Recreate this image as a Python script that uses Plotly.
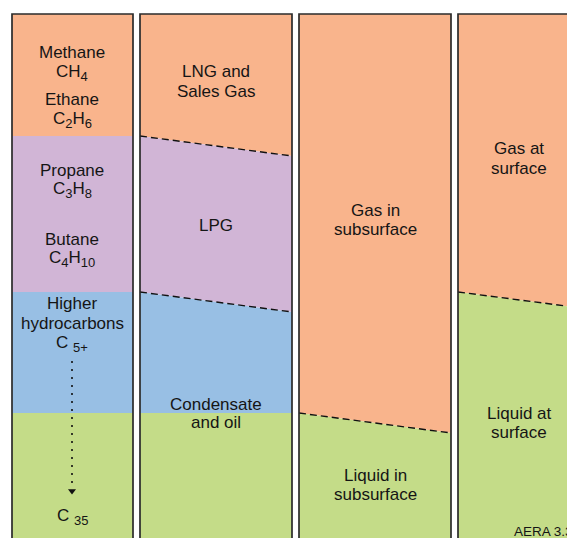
import plotly.graph_objects as go

# ---- data ----
col_left = [12, 140, 299, 458]
col_right = [133, 292, 451, 620]
col_top = 14
col_bottom = 580

ORANGE = "#F9B48C"
PURPLE = "#D1B5D6"
BLUE = "#98BFE4"
GREEN = "#C4DC88"

# band boundaries (left edge y, right edge y) from top to bottom, per column
col1_left_b = [14, 136, 292, 413, 580]
col1_right_b = [14, 136, 292, 413, 580]
col1_colors = [ORANGE, PURPLE, BLUE, GREEN]
col1_dashed = [False, False, False]

col2_left_b = [14, 136, 292, 413, 580]
col2_right_b = [14, 156, 312, 413, 580]
col2_colors = [ORANGE, PURPLE, BLUE, GREEN]
col2_dashed = [True, True, False]

col3_left_b = [14, 413, 580]
col3_right_b = [14, 433, 580]
col3_colors = [ORANGE, GREEN]
col3_dashed = [True]

col4_left_b = [14, 292, 580]
col4_right_b = [14, 313, 580]
col4_colors = [ORANGE, GREEN]
col4_dashed = [True]

columns = [
    (col1_left_b, col1_right_b, col1_colors, col1_dashed),
    (col2_left_b, col2_right_b, col2_colors, col2_dashed),
    (col3_left_b, col3_right_b, col3_colors, col3_dashed),
    (col4_left_b, col4_right_b, col4_colors, col4_dashed),
]

S = "<sub><span style='font-size:13px'>%s</span></sub>"

# labels: (text, x, y)
labels = [
    ("Methane", 72, 52), ("CH" + S % "4", 72, 73),
    ("Ethane", 72, 99), ("C" + S % "2" + "H" + S % "6", 72, 120),
    ("Propane", 72, 170), ("C" + S % "3" + "H" + S % "8", 72, 190),
    ("Butane", 72, 239), ("C" + S % "4" + "H" + S % "10", 72, 259),
    ("Higher", 72, 303), ("hydrocarbons", 72, 323), ("C " + S % "5+", 72, 344),
    ("C " + S % "35", 72, 517),
    ("LNG and", 216, 71), ("Sales Gas", 216, 91),
    ("LPG", 216, 225),
    ("Condensate", 216, 404), ("and oil", 216, 422),
    ("Gas in", 375, 210), ("subsurface", 375, 229),
    ("Liquid in", 375, 475), ("subsurface", 375, 494),
    ("Gas at", 519, 148), ("surface", 519, 168),
    ("Liquid at", 519, 413), ("surface", 519, 432),
]

arrow_x = [72, 72]
arrow_y = [361, 488]

fig = go.Figure()

for (lb, rb, colors, dashed), x0, x1 in zip(columns, col_left, col_right):
    for i, c in enumerate(colors):
        fig.add_trace(go.Scatter(
            x=[x0, x1, x1, x0, x0],
            y=[lb[i], rb[i], rb[i + 1], lb[i + 1], lb[i]],
            fill="toself", fillcolor=c, mode="none",
            hoverinfo="skip", showlegend=False))
    for i, d in enumerate(dashed):
        if d:
            fig.add_trace(go.Scatter(
                x=[x0, x1], y=[lb[i + 1], rb[i + 1]], mode="lines",
                line=dict(color="#111111", width=1.4, dash="7px,4px"),
                hoverinfo="skip", showlegend=False))
    fig.add_trace(go.Scatter(
        x=[x0, x0, x1, x1], y=[col_bottom, col_top, col_top, col_bottom],
        mode="lines", line=dict(color="#2b2b2b", width=1.7),
        hoverinfo="skip", showlegend=False))

# dotted arrow
fig.add_trace(go.Scatter(
    x=arrow_x, y=arrow_y, mode="lines",
    line=dict(color="#111111", width=1.6, dash="2px,6px"),
    hoverinfo="skip", showlegend=False))
fig.add_trace(go.Scatter(
    x=[arrow_x[-1]], y=[arrow_y[-1] + 3], mode="markers",
    marker=dict(symbol="triangle-down", size=7, color="#111111"),
    hoverinfo="skip", showlegend=False))

for t, x, y in labels:
    fig.add_annotation(x=x, y=y, text=t, showarrow=False,
                       xanchor="center", yanchor="middle",
                       font=dict(family="Liberation Sans, Arial, sans-serif",
                                 size=17, color="#151515"))

fig.add_annotation(x=512, y=531, text="AERA 3.3", showarrow=False,
                   xanchor="left", yanchor="middle",
                   font=dict(family="Liberation Sans, Arial, sans-serif",
                             size=13.5, color="#151515"))

fig.update_layout(
    width=567, height=538,
    margin=dict(l=0, r=0, t=0, b=0),
    paper_bgcolor="white", plot_bgcolor="white",
    xaxis=dict(range=[0, 567], visible=False, fixedrange=True),
    yaxis=dict(range=[538, 0], visible=False, fixedrange=True),
)

fig.write_html(
    "out.html",
    config={"displayModeBar": False},
    post_script="document.body.style.margin='0';document.body.style.overflow='hidden';",
)
